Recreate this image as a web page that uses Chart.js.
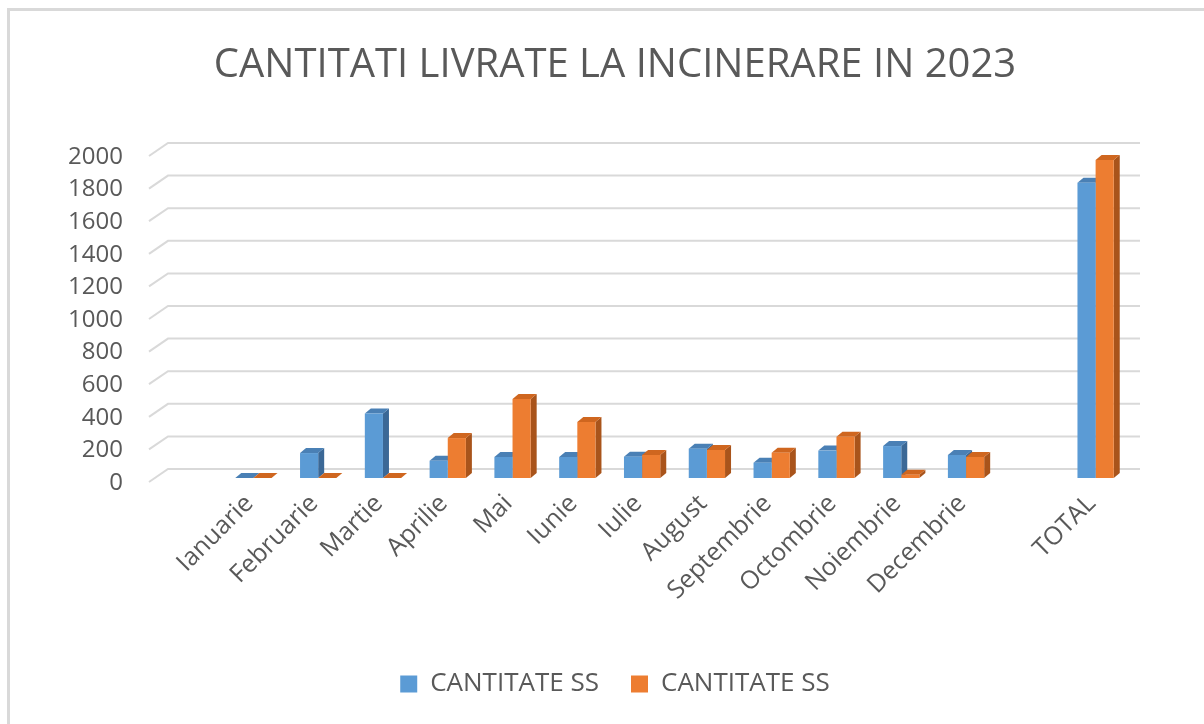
<!DOCTYPE html>
<html><head><meta charset="utf-8">
<script src="https://cdn.jsdelivr.net/npm/chart.js@4.4.1/dist/chart.umd.min.js"></script>
<style>html,body{margin:0;padding:0;background:#fff;} canvas{display:block;}</style>
</head><body>
<canvas id="c" width="1204" height="724"></canvas>
<script>
const titleText = 'CANTITATI LIVRATE LA INCINERARE IN 2023';
const categories = ['Ianuarie','Februarie','Martie','Aprilie','Mai','Iunie','Iulie','August','Septembrie','Octombrie','Noiembrie','Decembrie','','TOTAL'];
const seriesNames = ['CANTITATE SS','CANTITATE SS'];
const seriesA = [0,153,395,106,129,129,131,180,94,168,196,141,null,1812];
const seriesB = [0,0,0,245,485,343,141,172,155,253,20,129,null,1951];
const yTicks = [0,200,400,600,800,1000,1200,1400,1600,1800,2000];

const TEXT = '#595959';
const FONT = 'Open Sans';
const frontColors = ['#5b9bd5','#ed7d31'];
const faceColors = [{top:'#4a80b5', side:'#3b6896'},{top:'#cf661f', side:'#a9541b'}];
const DX = 6, DY = 5;

const framePlugin = {
  id:'frame',
  beforeDraw(chart){
    const ctx = chart.ctx;
    ctx.save();
    ctx.fillStyle = '#fff';
    ctx.fillRect(0,0,chart.width,chart.height);
    ctx.strokeStyle = '#d9d9d9';
    ctx.lineWidth = 3;
    ctx.beginPath();
    ctx.moveTo(8.5, chart.height);
    ctx.lineTo(8.5, 9.5);
    ctx.lineTo(chart.width, 9.5);
    ctx.stroke();
    ctx.restore();
  }
};

const gridPlugin = {
  id:'grid3d',
  beforeDatasetsDraw(chart){
    const {ctx, chartArea:a, scales:{y}} = chart;
    ctx.save();
    ctx.strokeStyle = '#d9d9d9';
    ctx.lineWidth = 2;
    yTicks.forEach(v => {
      const py = y.getPixelForValue(v);
      ctx.beginPath();
      ctx.moveTo(a.left - 72, py + 4);
      ctx.lineTo(a.left - 53, py - 9);
      ctx.lineTo(a.right + 12, py - 9);
      ctx.stroke();
    });
    ctx.restore();
  }
};

const facesPlugin = {
  id:'faces3d',
  beforeDatasetsDraw(chart){
    const ctx = chart.ctx;
    ctx.save();
    categories.forEach((c,i) => {
      chart.data.datasets.forEach((ds,d) => {
        const el = chart.getDatasetMeta(d).data[i];
        if (!el || ds.data[i] == null) return;
        const {x,y,base,width} = el.getProps(['x','y','base','width'], true);
        const l = x - width/2, r = x + width/2;
        ctx.fillStyle = faceColors[d].side;
        ctx.beginPath();
        ctx.moveTo(r,y); ctx.lineTo(r+DX,y-DY); ctx.lineTo(r+DX,base-DY); ctx.lineTo(r,base);
        ctx.closePath(); ctx.fill();
        ctx.fillStyle = faceColors[d].top;
        ctx.beginPath();
        ctx.moveTo(l,y); ctx.lineTo(r,y); ctx.lineTo(r+DX,y-DY); ctx.lineTo(l+DX,y-DY);
        ctx.closePath(); ctx.fill();
      });
    });
    ctx.restore();
  }
};

function build(){
  new Chart(document.getElementById('c'), {
    type:'bar',
    data:{
      labels: categories,
      datasets:[
        {label:seriesNames[0], data:seriesA, backgroundColor:frontColors[0], borderWidth:0, categoryPercentage:0.56, barPercentage:1},
        {label:seriesNames[1], data:seriesB, backgroundColor:frontColors[1], borderWidth:0, categoryPercentage:0.56, barPercentage:1}
      ]
    },
    options:{
      responsive:false,
      animation:false,
      devicePixelRatio:1,
      layout:{padding:{left:66, right:40, top:0, bottom:17}},
      plugins:{
        tooltip:{enabled:false},
        title:{display:true, text:titleText, color:TEXT, font:{family:FONT, size:40, weight:'normal'}, padding:{top:42, bottom:62}},
        legend:{position:'bottom', labels:{color:TEXT, font:{family:FONT, size:26}, boxWidth:17, boxHeight:17, padding:32}}
      },
      scales:{
        x:{
          grid:{display:false, drawTicks:false},
          border:{display:false},
          ticks:{color:TEXT, font:{family:FONT, size:25}, maxRotation:45, minRotation:45, autoSkip:false, padding:11, labelOffset:-4},
          afterFit(s){ s.height = 161; }
        },
        y:{
          min:0, max:2000,
          afterBuildTicks(s){ s.ticks = yTicks.map(v => ({value:v})); },
          grid:{display:false, drawTicks:false},
          border:{display:false},
          ticks:{color:TEXT, font:{family:FONT, size:24}, padding:98, labelOffset:5, autoSkip:false, callback:(v) => String(v)},
          afterFit(s){ s.width = 155; }
        },
        yRight:{
          position:'right',
          display:true,
          grid:{display:false, drawTicks:false},
          border:{display:false},
          ticks:{display:false},
          afterFit(s){ s.width = 36; }
        }
      }
    },
    plugins:[framePlugin, gridPlugin, facesPlugin]
  });
}
if (document.fonts && document.fonts.load) {
  Promise.all([document.fonts.load('25px "Open Sans"'), document.fonts.load('40px "Open Sans"')]).then(build, build);
} else build();
</script>
</body></html>
